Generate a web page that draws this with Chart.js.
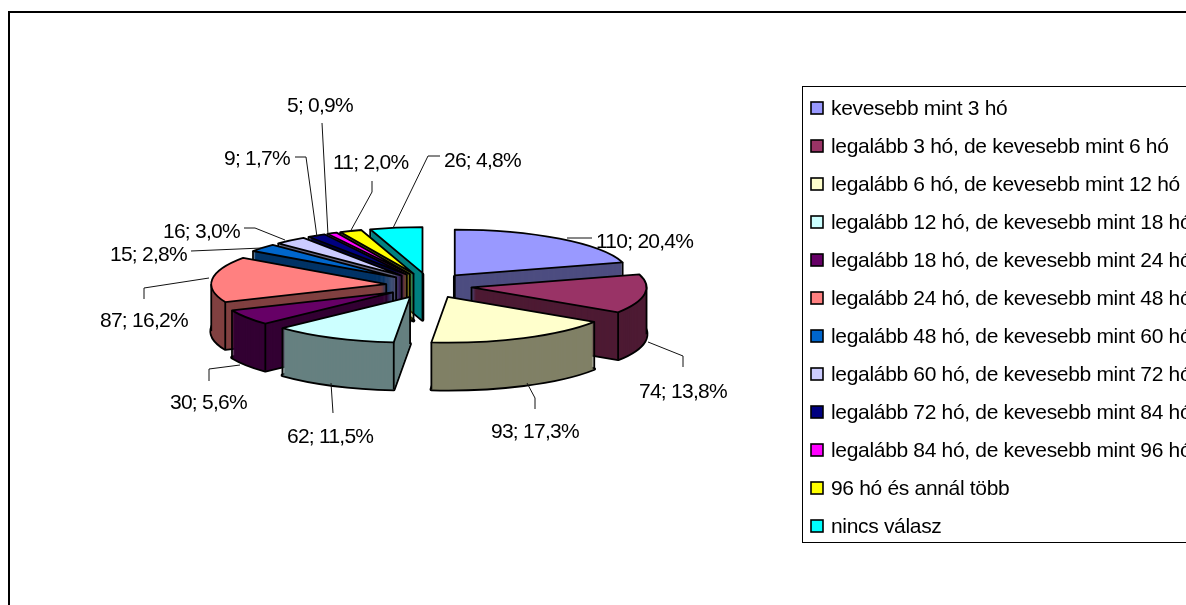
<!DOCTYPE html>
<html>
<head>
<meta charset="utf-8">
<title>Pie</title>
<style>
    html, body { margin: 0; padding: 0; background: #fff; overflow: hidden; }
    canvas { display: block; }
</style>
<script src="https://cdn.jsdelivr.net/npm/chart.js"></script>
</head>
<body>
<canvas id="pieChart" width="1186" height="605"></canvas>
<script>
const categories = [
    'kevesebb mint 3 hó',
    'legalább 3 hó, de kevesebb mint 6 hó',
    'legalább 6 hó, de kevesebb mint 12 hó',
    'legalább 12 hó, de kevesebb mint 18 hó',
    'legalább 18 hó, de kevesebb mint 24 hó',
    'legalább 24 hó, de kevesebb mint 48 hó',
    'legalább 48 hó, de kevesebb mint 60 hó',
    'legalább 60 hó, de kevesebb mint 72 hó',
    'legalább 72 hó, de kevesebb mint 84 hó',
    'legalább 84 hó, de kevesebb mint 96 hó',
    '96 hó és annál több',
    'nincs válasz'
];
const values = [110, 74, 93, 62, 30, 87, 15, 16, 9, 5, 11, 26];
const topColors = ['#9999FF', '#993366', '#FFFFCC', '#CCFFFF', '#660066', '#FF8080',
    '#0066CC', '#CCCCFF', '#000080', '#FF00FF', '#FFFF00', '#00FFFF'];
const wallColors = ['#4D4D80', '#4D1A33', '#808066', '#668080', '#330033', '#804040',
    '#003366', '#666680', '#000040', '#800080', '#808000', '#008080'];

// where each data label sits: left edge, vertical middle
const labelAnchors = [[596, 242], [639, 392], [491, 432], [287, 437], [170, 403], [100, 321],
    [110, 255], [163, 232], [224, 159], [287, 106], [333, 163], [444, 161]];
// leader lines, slice to label
const leaders = [
    [[567, 238], [592, 238]],
    [[648, 342], [683, 356], [683, 367]],
    [[527, 383], [535, 398], [535, 409]],
    [[331, 383], [333, 413]],
    [[240, 365], [209, 369], [209, 381]],
    [[209, 278], [144, 288], [144, 299]],
    [[262, 248], [191, 251]],
    [[285, 240], [255, 228], [244, 228]],
    [[317, 237], [306, 157], [295, 157]],
    [[328, 235], [322, 123]],
    [[350, 232], [372, 192], [372, 181]],
    [[393, 228], [428, 156], [440, 156]]
];

const squash = 0.261;      // tilt of the pie
const depth = 47;          // wall height
const explodeX = 43;
const explodeY = 12.75;
const edgeWidth = 1.8;
const labelFont = '21px "Liberation Sans"';
const labelSpacing = '-0.75px';
const legendFont = '21px "Liberation Sans"';
const legendSpacing = '-0.32px';

const total = values.reduce((a, b) => a + b, 0);
const labelText = (v) => v + '; ' + (v / total * 100).toFixed(1).replace('.', ',') + '%';

function sliceGeometry(el) {
    const mid = (el.startAngle + el.endAngle) / 2;
    return {
        ax: el.x + Math.cos(mid) * explodeX,
        ay: el.y + Math.sin(mid) * explodeY,
        rx: el.outerRadius,
        ry: el.outerRadius * squash,
        start: el.startAngle,
        end: el.endAngle
    };
}

// fill one slice face with the library's own arc drawing, flattened
function drawFace(ctx, el, g, dz, color) {
    const saved = el.options;
    el.options = Object.assign(Object.create(saved), { backgroundColor: color, borderWidth: 0 });
    ctx.save();
    ctx.translate(g.ax, g.ay + dz);
    ctx.scale(1, squash);
    ctx.translate(-el.x, -el.y);
    el.draw(ctx);
    ctx.restore();
    el.options = saved;
}

function strokeFace(ctx, g, dz) {
    ctx.beginPath();
    ctx.moveTo(g.ax, g.ay + dz);
    ctx.ellipse(g.ax, g.ay + dz, g.rx, g.ry, 0, g.start, g.end);
    ctx.closePath();
    ctx.stroke();
}

function insideTop(g, x, y) {
    const dx = (x - g.ax) / g.rx;
    const dy = (y - g.ay) / g.ry;
    if (dx * dx + dy * dy > 1) return false;
    let a = Math.atan2(dy, dx);
    while (a < g.start) a += Math.PI * 2;
    return a <= g.end;
}

// vertical edges of the wall: apex, both corners and the left/right extremes
function strokeWallEdges(ctx, g) {
    const points = [[g.ax, g.ay]];
    const onRim = (a) => [g.ax + Math.cos(a) * g.rx, g.ay + Math.sin(a) * g.ry];
    points.push(onRim(g.start), onRim(g.end));
    [0, Math.PI, Math.PI * 2].forEach(a => {
        if (a > g.start && a < g.end) points.push(onRim(a));
    });
    points.forEach(p => {
        if (insideTop(g, p[0], p[1] + 1.5)) return;
        ctx.beginPath();
        ctx.moveTo(p[0], p[1]);
        ctx.lineTo(p[0], p[1] + depth);
        ctx.stroke();
    });
}

const pie3d = {
    id: 'pie3d',
    beforeDatasetDraw() {
        return false;
    },
    afterDatasetsDraw(chart) {
        const ctx = chart.ctx;
        const arcs = chart.getDatasetMeta(0).data;
        const order = arcs.map((el, i) => i).sort((a, b) => {
            const ma = (arcs[a].startAngle + arcs[a].endAngle) / 2;
            const mb = (arcs[b].startAngle + arcs[b].endAngle) / 2;
            return Math.sin(ma) - Math.sin(mb);
        });

        ctx.save();
        ctx.strokeStyle = '#000';
        ctx.lineJoin = 'round';
        order.forEach(i => {
            const el = arcs[i];
            const g = sliceGeometry(el);
            // double width: the wall fill hides the inner half and the back edges
            ctx.lineWidth = edgeWidth * 2;
            strokeFace(ctx, g, depth);
            for (let dz = depth; dz > 0; dz--) {
                drawFace(ctx, el, g, dz, wallColors[i]);
            }
            ctx.lineWidth = edgeWidth;
            strokeWallEdges(ctx, g);
            drawFace(ctx, el, g, 0, topColors[i]);
            strokeFace(ctx, g, 0);
        });
        ctx.restore();

        drawLabels(ctx);
        drawLegend(ctx);
        drawFrame(ctx);
    }
};

function drawLabels(ctx) {
    ctx.save();
    ctx.strokeStyle = '#111';
    ctx.lineWidth = 1;
    leaders.forEach(line => {
        ctx.beginPath();
        line.forEach((p, i) => i ? ctx.lineTo(p[0], p[1]) : ctx.moveTo(p[0], p[1]));
        ctx.stroke();
    });
    ctx.fillStyle = '#000';
    ctx.font = labelFont;
    ctx.letterSpacing = labelSpacing;
    ctx.textAlign = 'left';
    ctx.textBaseline = 'middle';
    values.forEach((v, i) => {
        ctx.fillText(labelText(v), labelAnchors[i][0], labelAnchors[i][1]);
    });
    ctx.restore();
}

function drawLegend(ctx) {
    ctx.save();
    ctx.strokeStyle = '#000';
    ctx.lineWidth = 1;
    ctx.strokeRect(802.5, 86.5, 500, 456);
    ctx.font = legendFont;
    ctx.letterSpacing = legendSpacing;
    ctx.textAlign = 'left';
    ctx.textBaseline = 'middle';
    categories.forEach((name, i) => {
        const y = 108 + i * 38;
        ctx.fillStyle = topColors[i];
        ctx.fillRect(811, y - 6, 12, 12);
        ctx.lineWidth = 1.6;
        ctx.strokeRect(811, y - 6, 12, 12);
        ctx.fillStyle = '#000';
        ctx.fillText(name, 831, y + 1);
    });
    ctx.restore();
}

function drawFrame(ctx) {
    ctx.save();
    ctx.fillStyle = '#000';
    ctx.fillRect(8, 11, 1178, 2);
    ctx.fillRect(8, 11, 2, 594);
    ctx.restore();
}

new Chart(document.getElementById('pieChart'), {
    type: 'pie',
    data: {
        labels: categories,
        datasets: [{
            data: values,
            backgroundColor: topColors,
            borderWidth: 0
        }]
    },
    options: {
        responsive: false,
        animation: false,
        radius: 175,
        events: [],
        layout: { padding: { left: 0, right: 328, top: 0, bottom: 34 } },
        plugins: {
            legend: { display: false },
            tooltip: { enabled: false }
        }
    },
    plugins: [pie3d]
});
</script>
</body>
</html>
